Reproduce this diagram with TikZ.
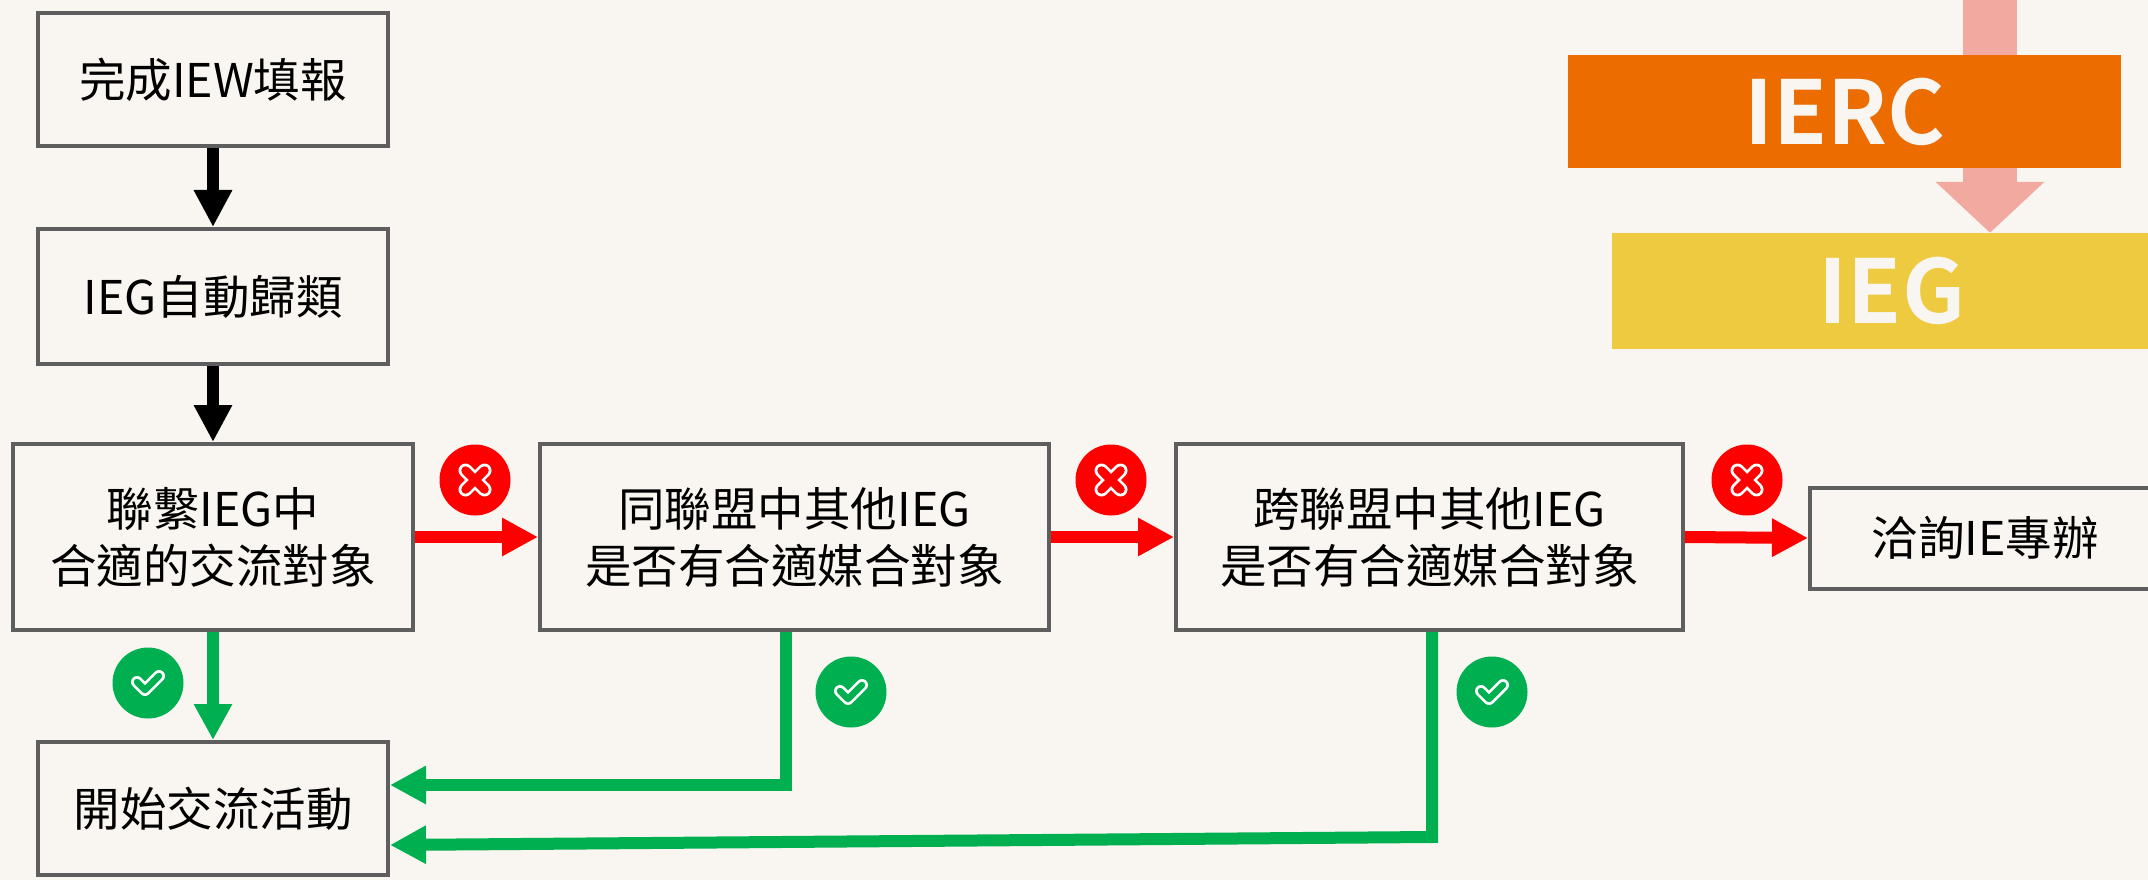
\documentclass[tikz,border=0pt]{standalone}
\usepackage{fontspec}
\setmainfont{Noto Sans CJK TC}[BoldFont={Noto Sans CJK TC Bold}]
\usepackage{tikz}
\usetikzlibrary{arrows.meta}
\definecolor{bg}{HTML}{F9F6F1}
\definecolor{edge}{HTML}{5E5E5E}
\definecolor{nored}{HTML}{FF0000}
\definecolor{okgreen}{HTML}{00AF50}
\definecolor{ierc}{HTML}{EC6C00}
\definecolor{ieg}{HTML}{EDCA3F}
\definecolor{flow}{HTML}{F1A9A0}
\tikzset{
  box/.style={draw=edge, line width=4pt, fill=bg, inner sep=0pt, align=center,
    font=\fontsize{46.5}{57}\selectfont},
  tag/.style={inner sep=0pt, text=bg, font=\fontsize{88}{88}\selectfont\bfseries},
  blackarrow/.style={line width=12pt, -{Triangle[length=37pt,width=36pt]}},
  noarrow/.style={nored, line width=12pt, -{Triangle[length=36pt,width=36pt]}},
  okarrow/.style={okgreen, line width=12pt, -{Triangle[length=36pt,width=36pt]}},
  badge/.style={circle, inner sep=0pt, minimum size=71pt}
}
\newcommand{\nomark}[1]{%
  \begin{scope}[shift={(#1)}, line cap=round]
    \draw[white, line width=14pt] (-9.5,-9.5) -- (9.5,9.5) (-9.5,9.5) -- (9.5,-9.5);
    \draw[nored, line width=8.5pt] (-9.5,-9.5) -- (9.5,9.5) (-9.5,9.5) -- (9.5,-9.5);
  \end{scope}}
\newcommand{\okmark}[1]{%
  \begin{scope}[shift={(#1)}, line cap=round, line join=round]
    \draw[white, line width=12pt] (-11,-1) -- (-3,7) -- (11,-7);
    \draw[okgreen, line width=6.5pt] (-11,-1) -- (-3,7) -- (11,-7);
  \end{scope}}

\begin{document}
\begin{tikzpicture}[x=1pt, y=-1pt]
\fill[bg] (0,0) rectangle (2148,880);
\useasboundingbox (0,0) rectangle (2148,880);
\clip (0,0) rectangle (2148,880);

% legend at the top right
\node[tag, fill=ieg, minimum width=560pt, minimum height=116pt] (ieg) at (1892,291) {IEG};
\coordinate (top) at (1990,-10);
\draw[flow, line width=54pt, -{Triangle[length=51pt,width=106pt]}] (top) -- (ieg.north -| top);
\node[tag, fill=ierc, minimum width=553pt, minimum height=113pt] (ierc) at (1844.5,111.5) {IERC};

% flow boxes
\node[box, minimum width=350pt, minimum height=133pt] (fill) at (213,79.5) {完成IEW填報};
\node[box, minimum width=350pt, minimum height=135pt] (sort) at (213,296.5) {IEG自動歸類};
\node[box, minimum width=400pt, minimum height=186pt] (own) at (213,537) {聯繫IEG中\\合適的交流對象};
\node[box, minimum width=509pt, minimum height=186pt] (same) at (794.5,537) {同聯盟中其他IEG\\是否有合適媒合對象};
\node[box, minimum width=507pt, minimum height=186pt] (cross) at (1429.5,537) {跨聯盟中其他IEG\\是否有合適媒合對象};
\node[box, minimum width=350pt, minimum height=101pt] (office) at (1985,538) {洽詢IE專辦};
\node[box, minimum width=350pt, minimum height=133pt] (start) at (213,808.5) {開始交流活動};

\draw[blackarrow] (fill.south) -- (sort.north);
\draw[blackarrow] (sort.south) -- (own.north);

% no: go on to the next box
\draw[noarrow] (own.east) -- (same.west);
\draw[noarrow] (same.east) -- (cross.west);
\draw[noarrow] (cross.east) -- (office.west);
\node[badge, fill=nored] (no1) at (475,480) {};
\node[badge, fill=nored] (no2) at (1111,480) {};
\node[badge, fill=nored] (no3) at (1747,480) {};
\nomark{no1}
\nomark{no2}
\nomark{no3}

% yes: start the exchange
\draw[okarrow] (own.south) -- (start.north);
\draw[okarrow] (786,0 |- same.south) -- (786,785) -- (start.east |- 0,785);
\draw[okarrow] (1432,0 |- cross.south) -- (1432,837) -- (start.east |- 0,845);
\node[badge, fill=okgreen] (ok1) at (148,683) {};
\node[badge, fill=okgreen] (ok2) at (851,692) {};
\node[badge, fill=okgreen] (ok3) at (1492,692) {};
\okmark{ok1}
\okmark{ok2}
\okmark{ok3}
\end{tikzpicture}
\end{document}
